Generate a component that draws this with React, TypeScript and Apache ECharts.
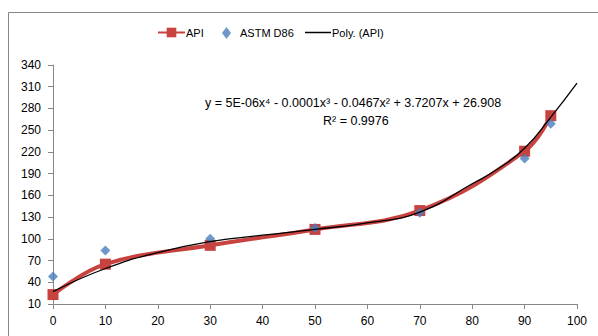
import React, { useEffect, useRef } from "react";
import * as echarts from "echarts";

const xApi = [0, 10, 30, 50, 70, 90, 95];
const apiValues = [23, 65, 91, 113, 139, 221, 270];
const xAstm = [0, 10, 30, 50, 70, 90, 95];
const astmValues = [48, 84, 100, 115, 136, 211, 259];
const xPoly = [0, 10, 20, 30, 40, 50, 60, 70, 80, 85, 90, 95, 100];
const polyValues = [27, 59, 81, 96, 105, 113, 122, 137, 176, 197, 225, 268, 315];
const equationText = "y = 5E-06x⁴ - 0.0001x³ - 0.0467x² + 3.7207x + 26.908";
const r2Text = "R² = 0.9976";

const RED = "#C8423F";
const BLUE = "#4A7EBB";
const FONT = "'Liberation Sans', Arial, sans-serif";

export default function App() {
  const ref = useRef<HTMLDivElement>(null);
  useEffect(() => {
    if (!ref.current) return;
    const chart = echarts.init(ref.current, null, { renderer: "svg" });
    const textStyle = { fontFamily: FONT, fontSize: 11, color: "#000" };
    chart.setOption({
      animation: false,
      backgroundColor: "#fff",
      textStyle: { fontFamily: FONT },
      grid: { left: 53, right: 21, top: 65, bottom: 32 },
      legend: [
        {
          left: 157, top: 27, padding: 0, itemWidth: 27, itemHeight: 12,
          data: ["API"], textStyle: { ...textStyle, padding: [0, 0, 0, -4] },
        },
        {
          left: 222, top: 27, padding: 0, itemWidth: 9, itemHeight: 12,
          data: ["ASTM D86"], textStyle: { ...textStyle, padding: [0, 0, 0, 4] },
        },
        {
          left: 305, top: 27, padding: 0, itemWidth: 26, itemHeight: 1.5,
          data: [{ name: "Poly. (API)", icon: "rect" }],
          textStyle: { ...textStyle, padding: [0, 0, 0, -4] },
        },
      ],
      xAxis: {
        type: "value", min: 0, max: 100, interval: 10,
        splitLine: { show: false },
        axisLine: { lineStyle: { color: "#868686" } },
        axisTick: { lineStyle: { color: "#868686" }, length: 5 },
        axisLabel: { color: "#000", fontSize: 12, fontFamily: FONT, margin: 11 },
      },
      yAxis: {
        type: "value", min: 10, max: 340, interval: 30,
        splitLine: { show: false },
        axisLine: { show: true, lineStyle: { color: "#868686" } },
        axisTick: { show: true, lineStyle: { color: "#868686" }, length: 5 },
        axisLabel: { color: "#000", fontSize: 12, fontFamily: FONT, margin: 12 },
      },
      graphic: [
        {
          type: "rect", silent: true, z: -10,
          shape: { x: 8.5, y: 12.5, width: 700, height: 400 },
          style: { fill: "none", stroke: "#868686", lineWidth: 1 },
        },
        {
          type: "text", left: 205, top: 96,
          style: { text: equationText, font: `12.5px ${FONT}`, fill: "#000" },
        },
        {
          type: "text", left: 323, top: 114,
          style: { text: r2Text, font: `12.5px ${FONT}`, fill: "#000" },
        },
      ],
      series: [
        {
          name: "API", type: "line", smooth: 0.4,
          data: xApi.map((x, i) => [x, apiValues[i]]),
          symbol: "rect", symbolSize: 11, showSymbol: true,
          lineStyle: { color: RED, width: 4 },
          itemStyle: { color: RED },
          z: 2,
        },
        {
          name: "ASTM D86", type: "scatter",
          data: xAstm.map((x, i) => [x, astmValues[i]]),
          symbol: "diamond", symbolSize: 10,
          itemStyle: { color: BLUE },
          z: 3,
        },
        {
          name: "Poly. (API)", type: "line", smooth: 0.5,
          data: xPoly.map((x, i) => [x, polyValues[i]]),
          symbol: "none", showSymbol: false,
          lineStyle: { color: "#000", width: 1.3 },
          itemStyle: { color: "#000" },
          z: 4,
        },
      ],
    });
    return () => chart.dispose();
  }, []);
  return (
    <div
      ref={ref}
      style={{ position: "fixed", left: 0, top: 0, width: 598, height: 336 }}
    />
  );
}
